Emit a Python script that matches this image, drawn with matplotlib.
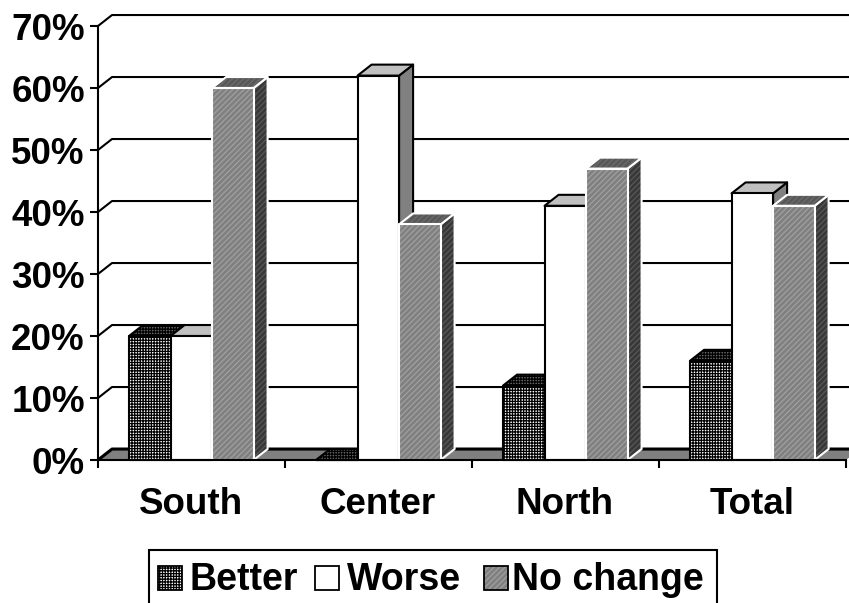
import matplotlib
matplotlib.use("Agg")
import matplotlib.pyplot as plt
from matplotlib.patches import Polygon, Rectangle

plt.rcParams['font.family'] = ['Liberation Sans', 'DejaVu Sans']
plt.rcParams['font.weight'] = 'bold'
plt.rcParams['hatch.linewidth'] = 0.9

W, H = 849, 603

regions = ['South', 'Center', 'North', 'Total']
series = ['Better', 'Worse', 'No change']
better = [20, 0, 12, 16]
worse = [20, 62, 41, 43]
no_change = [60, 38, 47, 41]
y_ticks = [0, 10, 20, 30, 40, 50, 60, 70]

# fill, hatch colour, hatch for the faces of each series
styles = {
    'Better': dict(front=('white', 'black', '++++++'), top=('#666666', 'black', '++++++'),
                   side=('#666666', 'black', '++++++'), edge='black'),
    'Worse': dict(front=('white', None, None), top=('#c0c0c0', None, None),
                  side=('#808080', None, None), edge='black'),
    'No change': dict(front=('#808080', '#a0a0a0', '//////'), top=('#585858', '#6c6c6c', '//////'),
                      side=('#383838', '#585858', '//////'), edge='white'),
}

BAR_W = 0.222
OFFSET = 0.166
DX = 0.075   # depth of the 3d effect, x units
DY = 1.77    # depth of the 3d effect, y units


def px(x):
    return x / W


def py(y):
    return 1 - y / H


def face(ax, pts, spec, edge, z, lw=1.5):
    fill, hcol, hatch = spec
    if hatch:
        # hatch takes the edge colour, so draw fill + hatch and outline separately
        ax.add_patch(Polygon(pts, closed=True, facecolor=fill, edgecolor=hcol, hatch=hatch,
                             linewidth=0, clip_on=False, zorder=z))
        ax.add_patch(Polygon(pts, closed=True, facecolor='none', edgecolor=edge,
                             linewidth=lw, clip_on=False, joinstyle='round', zorder=z))
    else:
        ax.add_patch(Polygon(pts, closed=True, facecolor=fill, edgecolor=edge,
                             linewidth=lw, clip_on=False, joinstyle='round', zorder=z))


def bar3d(ax, x, v, name, z):
    st = styles[name]
    x2 = x + BAR_W
    face(ax, [(x2, 0), (x2 + DX, DY), (x2 + DX, v + DY), (x2, v)], st['side'], st['edge'], z)
    face(ax, [(x, v), (x + DX, v + DY), (x2 + DX, v + DY), (x2, v)], st['top'], st['edge'], z)
    face(ax, [(x, 0), (x, v), (x2, v), (x2, 0)], st['front'], st['edge'], z)


fig = plt.figure(figsize=(W / 100, H / 100), dpi=100)
ax = fig.add_axes([px(98), py(460), px(846) - px(98), py(26) - py(460)])
ax.set_xlim(0, 4)
ax.set_ylim(0, 70)

# back wall grid lines with their short diagonal on the left wall
for v in y_ticks[1:]:
    ax.plot([0, DX, 4 + DX], [v, v + DY, v + DY], color='black', lw=1.5, clip_on=False,
            solid_joinstyle='round', zorder=0.5)

# floor
ax.add_patch(Polygon([(0, 0), (DX, DY), (4 + DX, DY), (4, 0)], closed=True, facecolor='#808080',
                     edgecolor='none', clip_on=False, zorder=0.6))
ax.plot([0, DX, 4 + DX], [0, DY, DY], color='black', lw=2.2, clip_on=False, zorder=0.7)

z = 1.0
for i in range(len(regions)):
    for k, (name, vals) in enumerate(zip(series, [better, worse, no_change])):
        bar3d(ax, i + OFFSET + k * BAR_W, vals[i], name, z)
        z += 0.01

for s in ['top', 'right']:
    ax.spines[s].set_visible(False)
for s in ['left', 'bottom']:
    ax.spines[s].set_linewidth(1.5)
ax.patch.set_alpha(0)

ax.set_yticks(y_ticks)
ax.set_yticklabels(['%d%%' % v for v in y_ticks], fontsize=26.5, fontweight='bold')
ax.set_xticks(range(5))
ax.set_xticklabels([])
ax.tick_params(axis='y', length=6, width=1.5, pad=3.5)
ax.tick_params(axis='x', length=6, width=1.5)

for i, r in enumerate(regions):
    ax.text(i + 0.497, -7.1, r, ha='center', va='center', fontsize=26.5, fontweight='bold', clip_on=False)

# legend box runs off the bottom edge
fig.add_artist(Rectangle((px(148.5), py(620)), px(717) - px(148.5), py(549.5) - py(620),
                         transform=fig.transFigure, facecolor='white', edgecolor='black', lw=1.5))
legend_x = [158, 315, 484]
text_x = [190, 347, 512]
for name, lx, tx in zip(series, legend_x, text_x):
    fill, hcol, hatch = styles[name]['front']
    fig.add_artist(Rectangle((px(lx), py(590)), 24 / W, 24 / H, transform=fig.transFigure,
                             facecolor=fill, edgecolor=hcol if hatch else 'black',
                             hatch=hatch, lw=0))
    fig.add_artist(Rectangle((px(lx), py(590)), 24 / W, 24 / H, transform=fig.transFigure,
                             facecolor='none', edgecolor='black', lw=1.3))
    fig.text(px(tx), py(590), name, ha='left', va='baseline', fontsize=27, fontweight='bold')

fig.savefig('out.png', dpi=100)
